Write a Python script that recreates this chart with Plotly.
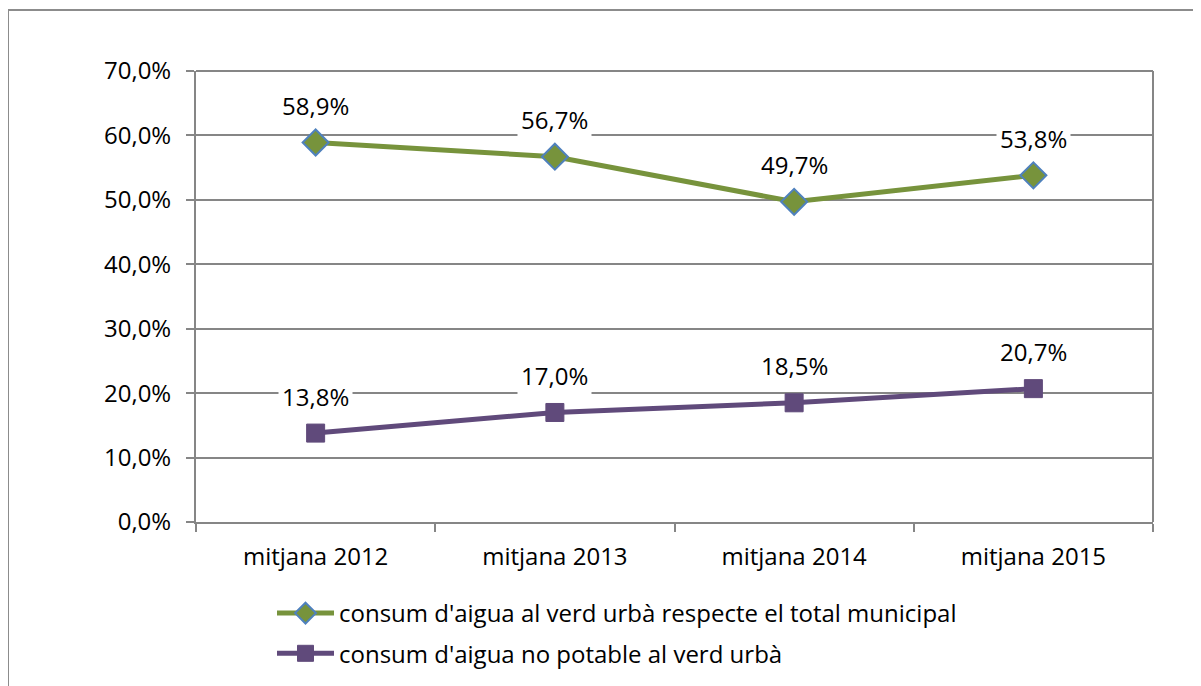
import plotly.graph_objects as go

categories = ["mitjana 2012", "mitjana 2013", "mitjana 2014", "mitjana 2015"]
verd_total = [58.9, 56.7, 49.7, 53.8]
no_potable = [13.8, 17.0, 18.5, 20.7]
series_names = ["consum d'aigua al verd urbà respecte el total municipal",
                "consum d'aigua no potable al verd urbà"]
y_ticks = [0, 10, 20, 30, 40, 50, 60, 70]
y_tick_labels = [f"{v:.1f}%".replace(".", ",") for v in y_ticks]

FONT = "'Open Sans', Lato, sans-serif"
FS = 24
GRID = "#868686"

fig = go.Figure()
fig.add_trace(go.Scatter(
    x=categories, y=verd_total, name=series_names[0], mode="lines+markers",
    line=dict(color="#77933C", width=5),
    marker=dict(symbol="diamond", size=20, color="#77933C",
                line=dict(color="#4F81BD", width=2)),
    legendgroup="a"))
fig.add_trace(go.Scatter(
    x=categories, y=no_potable, name=series_names[1], mode="lines+markers",
    line=dict(color="#604A7B", width=5),
    marker=dict(symbol="square", size=18, color="#604A7B",
                line=dict(color="#604A7B", width=1)),
    legendgroup="b"))

for series in (verd_total, no_potable):
    for c, v in zip(categories, series):
        fig.add_annotation(x=c, y=v, xref="x", yref="y",
                           text=f"{v:.1f}%".replace(".", ","),
                           showarrow=False, yshift=37,
                           bgcolor="white", borderpad=3,
                           font=dict(family=FONT, size=FS, color="#000"))

# page has an 8px body offset; figure coordinates below are relative to the div
OFF = 8
W, H = 1201 - OFF, 686 - OFF
L, R, T, B = 196 - OFF, 48, 71 - OFF, 164
pw, ph = W - L - R, H - T - B
def px_x(p):
    return (p - OFF - L) / pw
def px_y(p):
    return (H - B - (p - OFF)) / ph

fig.add_shape(type="rect", xref="paper", yref="paper",
              x0=px_x(OFF), x1=px_x(1215), y0=px_y(700), y1=px_y(10),
              line=dict(color="#8C8C8C", width=2), layer="below")

fig.update_layout(
    width=W, height=H,
    margin=dict(l=L, r=R, t=T, b=B, autoexpand=False),
    paper_bgcolor="white", plot_bgcolor="white",
    font=dict(family=FONT, size=FS, color="#000"),
    showlegend=True,
    legend=dict(x=px_x(272), y=px_y(591), xanchor="left", yanchor="top",
                orientation="v", itemwidth=57, tracegroupgap=6,
                font=dict(family=FONT, size=FS), bgcolor="rgba(0,0,0,0)"),
    xaxis=dict(type="category", range=[-0.5, 3.5], showgrid=False,
               showline=True, linecolor=GRID, linewidth=2,
               ticks="outside", tickson="boundaries", ticklen=8,
               tickcolor=GRID, tickwidth=2, ticklabelstandoff=12,
               tickfont=dict(family=FONT, size=FS)),
    yaxis=dict(range=[0, 70], tickmode="array", tickvals=y_ticks, ticktext=y_tick_labels,
               showgrid=True, gridcolor=GRID, gridwidth=2,
               showline=True, linecolor=GRID, linewidth=2,
               ticks="outside", ticklen=8, tickcolor=GRID, tickwidth=2,
               ticklabelstandoff=10,
               zeroline=False, tickfont=dict(family=FONT, size=FS)),
)
fig.add_shape(type="line", xref="paper", yref="paper", x0=1, x1=1, y0=0, y1=1,
              line=dict(color=GRID, width=2))
fig.add_shape(type="line", xref="paper", yref="paper", x0=0, x1=1, y0=1, y1=1,
              line=dict(color=GRID, width=2))

fig.write_html("out.html")
